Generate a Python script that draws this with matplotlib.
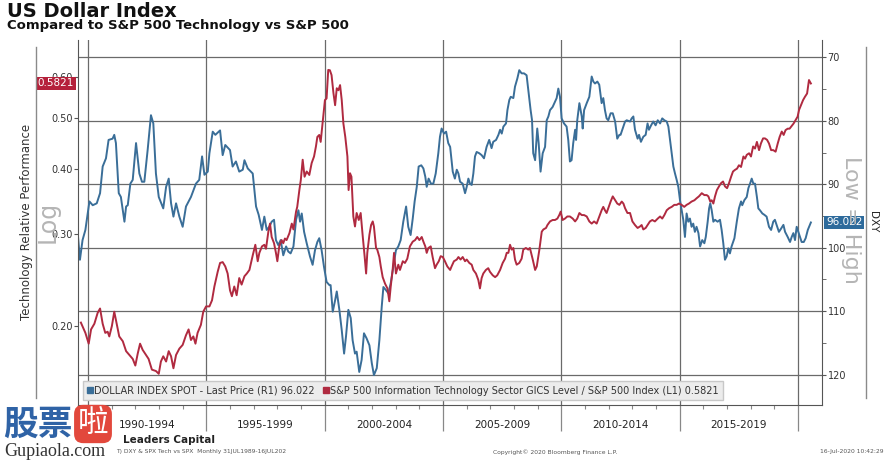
import matplotlib
matplotlib.use("Agg")
import matplotlib.pyplot as plt
from matplotlib.lines import Line2D
from matplotlib.ticker import NullLocator

plt.rcParams['font.family'] = ['DejaVu Sans', 'Noto Sans CJK SC']

# DXY monthly-ish (decimal year, index level) - right axis, inverted
dxy_t = [1989.58, 1989.66, 1989.77, 1989.89, 1990.06, 1990.20, 1990.37, 1990.51, 1990.62, 1990.76,
         1990.87, 1991.04, 1991.11, 1991.18, 1991.30, 1991.39, 1991.54, 1991.61, 1991.68, 1991.79,
         1991.89, 1992.03, 1992.17, 1992.28, 1992.38, 1992.52, 1992.66, 1992.76, 1992.87, 1992.99,
         1993.18, 1993.30, 1993.41, 1993.51, 1993.61, 1993.72, 1993.86, 1994.00, 1994.14, 1994.35,
         1994.56, 1994.70, 1994.82, 1994.92, 1995.06, 1995.13, 1995.27, 1995.38, 1995.58, 1995.69,
         1995.80, 1996.00, 1996.11, 1996.25, 1996.39, 1996.54, 1996.61, 1996.75, 1996.96, 1997.10,
         1997.21, 1997.35, 1997.45, 1997.55, 1997.66, 1997.76, 1997.86, 1997.94, 1998.04, 1998.14,
         1998.25, 1998.37, 1998.46, 1998.56, 1998.68, 1998.79, 1998.89, 1998.96, 1999.03, 1999.13,
         1999.24, 1999.38, 1999.49, 1999.59, 1999.69, 1999.77, 1999.87, 1999.97, 2000.08, 2000.20,
         2000.25, 2000.34, 2000.44, 2000.51, 2000.62, 2000.72, 2000.82, 2000.90, 2001.00, 2001.10,
         2001.18, 2001.28, 2001.35, 2001.46, 2001.56, 2001.66, 2001.77, 2001.89, 2001.99, 2002.08,
         2002.20, 2002.31, 2002.41, 2002.48, 2002.59, 2002.69, 2002.79, 2002.90, 2003.01, 2003.11,
         2003.21, 2003.32, 2003.44, 2003.53, 2003.63, 2003.72, 2003.80, 2003.89, 2003.97, 2004.08,
         2004.17, 2004.25, 2004.31, 2004.39, 2004.49, 2004.59, 2004.69, 2004.80, 2004.87, 2004.94,
         2005.04, 2005.13, 2005.22, 2005.30, 2005.41, 2005.50, 2005.58, 2005.65, 2005.72, 2005.83,
         2005.93, 2006.00, 2006.07, 2006.14, 2006.21, 2006.28, 2006.35, 2006.42, 2006.53, 2006.63,
         2006.73, 2006.84, 2006.95, 2007.05, 2007.12, 2007.24, 2007.34, 2007.41, 2007.48, 2007.55,
         2007.66, 2007.72, 2007.80, 2007.86, 2007.97, 2008.04, 2008.14, 2008.22, 2008.32, 2008.42,
         2008.53, 2008.60, 2008.70, 2008.76, 2008.81, 2008.89, 2008.98, 2009.04, 2009.12, 2009.21,
         2009.31, 2009.38, 2009.45, 2009.52, 2009.63, 2009.73, 2009.80, 2009.87, 2009.94, 2010.01,
         2010.11, 2010.22, 2010.29, 2010.36, 2010.43, 2010.50, 2010.58, 2010.62, 2010.67, 2010.76,
         2010.86, 2010.90, 2010.96, 2011.07, 2011.18, 2011.28, 2011.35, 2011.42, 2011.52, 2011.60,
         2011.70, 2011.77, 2011.84, 2011.91, 2011.98, 2012.08, 2012.17, 2012.27, 2012.36, 2012.45,
         2012.50, 2012.59, 2012.69, 2012.76, 2012.90, 2012.97, 2013.04, 2013.11, 2013.22, 2013.28,
         2013.36, 2013.46, 2013.56, 2013.64, 2013.70, 2013.79, 2013.88, 2013.98, 2014.07, 2014.17,
         2014.26, 2014.35, 2014.45, 2014.52, 2014.59, 2014.66, 2014.73, 2014.80, 2014.87, 2014.94,
         2015.01, 2015.08, 2015.15, 2015.22, 2015.29, 2015.36, 2015.43, 2015.50, 2015.57, 2015.64,
         2015.71, 2015.79, 2015.86, 2015.95, 2016.04, 2016.10, 2016.18, 2016.24, 2016.29, 2016.35,
         2016.42, 2016.49, 2016.60, 2016.70, 2016.77, 2016.84, 2016.91, 2016.98, 2017.05, 2017.12,
         2017.19, 2017.31, 2017.41, 2017.50, 2017.59, 2017.64, 2017.73, 2017.83, 2017.90, 2017.97,
         2018.04, 2018.11, 2018.18, 2018.26, 2018.32, 2018.39, 2018.49, 2018.57, 2018.67, 2018.77,
         2018.86, 2018.95, 2019.02, 2019.09, 2019.19, 2019.28, 2019.38, 2019.45, 2019.56, 2019.66,
         2019.73, 2019.80, 2019.87, 2019.94, 2020.01, 2020.08, 2020.15, 2020.24, 2020.32, 2020.41,
         2020.54]
dxy_v = [98.3, 101.9, 98.8, 97.2, 92.7, 93.3, 93.0, 91.4, 87.2, 85.9,
         83.0, 82.8, 82.2, 83.5, 91.4, 92.0, 95.9, 93.5, 93.3, 89.9,
         89.3, 83.5, 88.3, 89.6, 89.6, 84.6, 79.1, 80.4, 88.3, 92.0,
         93.8, 90.4, 89.1, 93.0, 95.1, 93.0, 95.1, 96.7, 93.5, 92.0,
         89.9, 89.3, 85.6, 88.5, 88.0, 85.1, 81.7, 82.2, 81.5, 85.4,
         83.8, 84.6, 87.2, 86.4, 88.0, 87.7, 86.2, 87.5, 88.3, 93.5,
         94.8, 97.2, 95.1, 97.2, 96.7, 95.9, 95.6, 98.8, 99.6, 98.8,
         101.2, 99.8, 100.6, 100.9, 99.8, 95.6, 94.1, 95.9, 94.6, 97.5,
         99.3, 101.4, 102.7, 100.4, 99.1, 98.5, 100.4, 103.0, 105.4, 105.9,
         105.9, 110.1, 108.3, 106.9, 109.8, 113.0, 116.7, 114.0, 109.8, 111.1,
         114.6, 116.7, 116.4, 119.6, 117.7, 113.5, 114.3, 115.4, 118.2, 120.1,
         119.0, 114.6, 109.3, 106.2, 106.7, 107.2, 105.6, 103.0, 100.4, 99.8,
         98.8, 95.9, 93.5, 96.7, 98.0, 95.4, 92.7, 90.4, 87.2, 87.0,
         87.5, 88.8, 90.4, 89.1, 89.9, 89.9, 88.3, 85.1, 82.5, 81.2,
         82.0, 81.7, 83.5, 84.1, 88.0, 89.1, 87.7, 88.3, 89.6, 89.9,
         91.4, 90.4, 89.1, 89.9, 90.1, 88.3, 85.6, 84.9, 85.1, 85.4,
         85.9, 84.1, 83.0, 84.3, 83.3, 83.0, 82.2, 81.4, 82.0, 80.9,
         80.4, 78.3, 76.7, 76.2, 76.4, 74.6, 73.3, 72.0, 72.5, 72.5,
         72.8, 75.1, 78.3, 79.9, 85.1, 86.2, 81.2, 83.5, 88.0, 85.1,
         84.1, 79.9, 79.3, 78.3, 77.8, 77.0, 76.4, 74.9, 76.2, 79.6,
         80.4, 80.9, 83.0, 86.4, 86.2, 83.5, 81.4, 83.0, 79.9, 77.2,
         79.3, 81.2, 78.3, 77.2, 76.2, 73.0, 73.8, 74.1, 73.8, 74.3,
         77.2, 76.4, 78.3, 79.6, 79.9, 78.8, 78.8, 80.1, 82.8, 82.2,
         82.2, 81.2, 80.1, 79.9, 80.1, 79.6, 79.3, 81.4, 82.8, 82.2,
         83.3, 82.5, 82.2, 80.4, 81.4, 80.7, 80.1, 80.7, 79.9, 80.4,
         79.6, 79.9, 80.1, 80.9, 83.0, 85.1, 87.2, 88.3, 89.3, 90.4,
         92.5, 94.1, 95.6, 98.3, 94.6, 95.9, 95.4, 96.7, 96.2, 97.5,
         96.7, 97.7, 99.8, 98.8, 99.3, 98.3, 95.9, 93.8, 93.0, 94.1,
         95.9, 95.6, 95.9, 95.6, 97.2, 99.3, 101.9, 101.4, 100.1, 100.9,
         99.8, 98.5, 95.9, 93.8, 92.7, 93.3, 92.5, 92.0, 90.6, 89.9,
         89.1, 89.9, 89.9, 92.0, 93.8, 94.1, 94.6, 94.8, 95.1, 96.7,
         97.2, 95.9, 95.6, 96.4, 97.5, 97.0, 96.4, 97.5, 98.3, 99.1,
         98.3, 97.7, 98.8, 96.7, 97.5, 98.3, 99.1, 99.1, 98.5, 97.2,
         96.02]

# S&P 500 IT sector / S&P 500 ratio - left axis, log
tech_t = [1989.70, 1989.89, 1990.03, 1990.13, 1990.27, 1990.41, 1990.51, 1990.62, 1990.73, 1990.83,
          1990.90, 1991.01, 1991.11, 1991.21, 1991.32, 1991.47, 1991.61, 1991.75, 1991.89, 1992.00,
          1992.10, 1992.20, 1992.31, 1992.45, 1992.56, 1992.70, 1992.87, 1992.99, 1993.08, 1993.18,
          1993.30, 1993.41, 1993.51, 1993.61, 1993.72, 1993.86, 1994.00, 1994.14, 1994.25, 1994.35,
          1994.45, 1994.54, 1994.63, 1994.77, 1994.87, 1994.99, 1995.13, 1995.24, 1995.34, 1995.48,
          1995.58, 1995.69, 1995.80, 1995.90, 1996.00, 1996.08, 1996.18, 1996.28, 1996.39, 1996.49,
          1996.61, 1996.71, 1996.82, 1996.96, 1997.07, 1997.17, 1997.24, 1997.35, 1997.45, 1997.52,
          1997.62, 1997.69, 1997.76, 1997.86, 1997.94, 1998.00, 1998.08, 1998.18, 1998.25, 1998.32,
          1998.39, 1998.51, 1998.61, 1998.68, 1998.79, 1998.84, 1998.93, 1998.99, 1999.07, 1999.15,
          1999.24, 1999.35, 1999.45, 1999.55, 1999.63, 1999.69, 1999.77, 1999.83, 1999.91, 2000.01,
          2000.08, 2000.15, 2000.22, 2000.29, 2000.37, 2000.44, 2000.51, 2000.58, 2000.65, 2000.72,
          2000.79, 2000.87, 2000.96, 2001.01, 2001.07, 2001.13, 2001.21, 2001.28, 2001.35, 2001.44,
          2001.52, 2001.61, 2001.69, 2001.75, 2001.80, 2001.89, 2001.96, 2002.03, 2002.08, 2002.17,
          2002.22, 2002.31, 2002.37, 2002.45, 2002.55, 2002.65, 2002.73, 2002.79, 2002.87, 2002.93,
          2003.01, 2003.11, 2003.18, 2003.30, 2003.39, 2003.49, 2003.60, 2003.72, 2003.82, 2003.91,
          2004.00, 2004.10, 2004.17, 2004.25, 2004.31, 2004.38, 2004.48, 2004.56, 2004.66, 2004.73,
          2004.82, 2004.90, 2004.99, 2005.08, 2005.18, 2005.30, 2005.36, 2005.46, 2005.58, 2005.65,
          2005.74, 2005.83, 2005.93, 2006.00, 2006.11, 2006.21, 2006.28, 2006.39, 2006.49, 2006.56,
          2006.63, 2006.70, 2006.81, 2006.91, 2006.98, 2007.10, 2007.20, 2007.29, 2007.41, 2007.52,
          2007.62, 2007.69, 2007.76, 2007.83, 2007.90, 2007.97, 2008.04, 2008.11, 2008.22, 2008.32,
          2008.39, 2008.50, 2008.60, 2008.67, 2008.79, 2008.89, 2008.96, 2009.07, 2009.17, 2009.24,
          2009.35, 2009.41, 2009.52, 2009.63, 2009.73, 2009.83, 2009.91, 2009.97, 2010.05, 2010.15,
          2010.25, 2010.36, 2010.48, 2010.58, 2010.67, 2010.76, 2010.86, 2010.96, 2011.07, 2011.18,
          2011.28, 2011.38, 2011.49, 2011.60, 2011.70, 2011.77, 2011.84, 2011.91, 2011.98, 2012.08,
          2012.17, 2012.27, 2012.36, 2012.45, 2012.55, 2012.62, 2012.69, 2012.79, 2012.90, 2013.00,
          2013.11, 2013.22, 2013.32, 2013.39, 2013.46, 2013.56, 2013.64, 2013.74, 2013.84, 2013.95,
          2014.07, 2014.17, 2014.26, 2014.35, 2014.45, 2014.55, 2014.66, 2014.77, 2014.87, 2014.97,
          2015.08, 2015.19, 2015.29, 2015.39, 2015.50, 2015.62, 2015.71, 2015.81, 2015.93, 2016.04,
          2016.14, 2016.21, 2016.29, 2016.35, 2016.42, 2016.49, 2016.57, 2016.66, 2016.74, 2016.83,
          2016.91, 2017.00, 2017.08, 2017.17, 2017.25, 2017.34, 2017.42, 2017.50, 2017.59, 2017.69,
          2017.76, 2017.83, 2017.93, 2018.01, 2018.10, 2018.18, 2018.26, 2018.35, 2018.43, 2018.52,
          2018.60, 2018.69, 2018.77, 2018.86, 2018.95, 2019.05, 2019.14, 2019.22, 2019.31, 2019.39,
          2019.47, 2019.56, 2019.64, 2019.73, 2019.81, 2019.90, 2019.98, 2020.04, 2020.12, 2020.21,
          2020.29, 2020.38, 2020.46, 2020.54]
tech_v = [0.203, 0.194, 0.185, 0.197, 0.202, 0.212, 0.216, 0.202, 0.194, 0.195,
          0.191, 0.200, 0.213, 0.202, 0.191, 0.187, 0.179, 0.176, 0.173, 0.168,
          0.177, 0.185, 0.180, 0.176, 0.173, 0.165, 0.164, 0.162, 0.171, 0.175,
          0.171, 0.179, 0.175, 0.166, 0.176, 0.181, 0.184, 0.192, 0.197, 0.188,
          0.191, 0.185, 0.194, 0.201, 0.213, 0.218, 0.218, 0.224, 0.238, 0.254,
          0.264, 0.265, 0.260, 0.252, 0.234, 0.228, 0.238, 0.229, 0.247, 0.240,
          0.249, 0.252, 0.256, 0.273, 0.286, 0.266, 0.276, 0.284, 0.286, 0.281,
          0.303, 0.314, 0.296, 0.288, 0.276, 0.266, 0.284, 0.292, 0.288, 0.294,
          0.292, 0.301, 0.314, 0.306, 0.331, 0.338, 0.364, 0.380, 0.416, 0.386,
          0.395, 0.389, 0.410, 0.422, 0.441, 0.460, 0.464, 0.450, 0.488, 0.541,
          0.545, 0.618, 0.617, 0.604, 0.558, 0.529, 0.570, 0.565, 0.578, 0.541,
          0.488, 0.460, 0.422, 0.364, 0.392, 0.386, 0.324, 0.310, 0.329, 0.319,
          0.329, 0.296, 0.271, 0.252, 0.276, 0.299, 0.312, 0.317, 0.310, 0.282,
          0.280, 0.271, 0.260, 0.248, 0.241, 0.236, 0.223, 0.238, 0.256, 0.276,
          0.252, 0.262, 0.256, 0.266, 0.264, 0.269, 0.284, 0.290, 0.292, 0.296,
          0.292, 0.296, 0.290, 0.284, 0.276, 0.282, 0.284, 0.271, 0.258, 0.262,
          0.266, 0.272, 0.271, 0.266, 0.260, 0.256, 0.260, 0.266, 0.268, 0.271,
          0.268, 0.271, 0.266, 0.268, 0.264, 0.262, 0.256, 0.252, 0.245, 0.236,
          0.247, 0.252, 0.256, 0.258, 0.254, 0.250, 0.248, 0.250, 0.256, 0.264,
          0.269, 0.276, 0.276, 0.286, 0.280, 0.282, 0.268, 0.262, 0.264, 0.269,
          0.280, 0.282, 0.280, 0.282, 0.268, 0.256, 0.260, 0.280, 0.303, 0.306,
          0.308, 0.312, 0.317, 0.319, 0.319, 0.321, 0.326, 0.331, 0.319, 0.321,
          0.324, 0.324, 0.321, 0.317, 0.321, 0.329, 0.326, 0.326, 0.324, 0.317,
          0.314, 0.317, 0.314, 0.324, 0.333, 0.338, 0.333, 0.329, 0.336, 0.346,
          0.354, 0.348, 0.343, 0.341, 0.346, 0.343, 0.336, 0.329, 0.329, 0.317,
          0.312, 0.308, 0.310, 0.312, 0.306, 0.308, 0.312, 0.317, 0.319, 0.317,
          0.321, 0.324, 0.321, 0.326, 0.333, 0.336, 0.338, 0.341, 0.341, 0.343,
          0.341, 0.338, 0.341, 0.343, 0.346, 0.348, 0.351, 0.354, 0.359, 0.356,
          0.356, 0.354, 0.346, 0.348, 0.343, 0.354, 0.364, 0.370, 0.375, 0.378,
          0.370, 0.367, 0.375, 0.386, 0.395, 0.398, 0.400, 0.406, 0.403, 0.422,
          0.418, 0.425, 0.428, 0.422, 0.441, 0.437, 0.450, 0.434, 0.447, 0.457,
          0.457, 0.454, 0.447, 0.434, 0.434, 0.431, 0.447, 0.460, 0.471, 0.464,
          0.474, 0.477, 0.477, 0.483, 0.488, 0.496, 0.503, 0.518, 0.529, 0.541,
          0.549, 0.557, 0.591, 0.5821]

periods = ['1990-1994', '1995-1999', '2000-2004', '2005-2009', '2010-2014', '2015-2019']
period_starts = [1990, 1995, 2000, 2005, 2010, 2015]
left_ticks = [0.20, 0.30, 0.40, 0.50, 0.60]
right_ticks = [70, 80, 90, 100, 110, 120]

blue = '#3a6e98'
red = '#b02a40'
W, H = 887, 466

fig = plt.figure(figsize=(W / 100, H / 100), dpi=100)
ax = fig.add_axes([78 / W, 1 - 405 / H, 744 / W, 365 / H])
axl = ax.twinx()  # made first: twinx moves the host's ticks to the left

# dollar index on the right, inverted (Low = High)
ax.plot(dxy_t, dxy_v, color=blue, lw=1.4)
ax.set_ylim(124.81, 67.24)
ax.set_xlim(1989.578, 2021.01)
ax.yaxis.tick_right()
ax.yaxis.set_label_position('right')
ax.set_yticks(right_ticks)
ax.set_yticks([75, 85, 95, 105, 115], minor=True)
ax.set_yticklabels([str(v) for v in right_ticks])
ax.tick_params(axis='y', which='both', direction='out', length=3, color='#555',
               labelsize=7, labelcolor='#333', pad=1)
ax.set_xticks(range(1990, 2021, 5))
ax.set_xticklabels([])
ax.set_xticks(range(1990, 2021), minor=True)
ax.tick_params(axis='x', which='major', length=19, color='#888', width=0.9)
ax.tick_params(axis='x', which='minor', length=3, color='#888', width=0.8)
ax.grid(True, which='major', color='#6a6a6a', lw=0.9)
ax.set_axisbelow(True)
ax.spines['top'].set_visible(False)
for s in ['left', 'right', 'bottom']:
    ax.spines[s].set_color('#555')

for lab, st in zip(periods, period_starts):
    ax.text(st + 2.5, -0.055, lab, transform=ax.get_xaxis_transform(), ha='center',
            va='center', fontsize=7.5, color='#222')

# tech relative performance on the left, log scale
axl.plot(tech_t, tech_v, color=red, lw=1.4)
axl.set_yscale('log')
axl.set_ylim(0.1412, 0.705)
axl.yaxis.tick_left()
axl.set_yticks(left_ticks)
axl.set_yticklabels(['%.2f' % v for v in left_ticks])
axl.yaxis.set_minor_locator(NullLocator())
axl.tick_params(axis='y', direction='out', length=3, color='#555', labelsize=7,
                labelcolor='#333', pad=1)
for s in axl.spines.values():
    s.set_visible(False)

axl.annotate('0.5821', xy=(0, 0.5821), xycoords=('axes fraction', 'data'),
             xytext=(-3, 0), textcoords='offset points', ha='right', va='center',
             fontsize=7.5, color='white', annotation_clip=False,
             bbox=dict(boxstyle='square,pad=0.18', fc='#b5213b', ec='none'))
ax.annotate('96.022', xy=(1, 96.022), xycoords=('axes fraction', 'data'),
            xytext=(3, 0), textcoords='offset points', ha='left', va='center',
            fontsize=7.5, color='white', annotation_clip=False,
            bbox=dict(boxstyle='square,pad=0.18', fc='#2e6b9c', ec='none'))

handles = [Line2D([], [], ls='none', marker='s', ms=4, color=blue),
           Line2D([], [], ls='none', marker='s', ms=4, color=red)]
leg = axl.legend(handles, ['DOLLAR INDEX SPOT - Last Price (R1) 96.022',
                           'S&P 500 Information Technology Sector GICS Level / S&P 500 Index (L1) 0.5821'],
                 ncol=2, loc='lower left', bbox_to_anchor=(0.0, 0.0), fontsize=7.0,
                 frameon=True, fancybox=False, facecolor='#ececec', edgecolor='#c8c8c8',
                 handlelength=0.5, handletextpad=0.2, columnspacing=0.9, borderpad=0.45,
                 labelcolor='#333')
leg.get_frame().set_alpha(1)

# titles and side labels
fig.text(7 / W, 1 - 2 / H, 'US Dollar Index', fontsize=14, fontweight='bold', va='top', color='#111')
fig.text(7 / W, 1 - 19 / H, 'Compared to S&P 500 Technology vs S&P 500', fontsize=9.5,
         fontweight='bold', va='top', color='#111')
fig.text(27 / W, 1 - 222 / H, 'Technology Relative Performance', rotation=90, fontsize=8.5,
         ha='center', va='center', color='#333')
fig.text(48 / W, 1 - 222 / H, 'Log', rotation=90, fontsize=17, ha='center', va='center', color='#b5b5b5')
fig.text(851 / W, 1 - 220 / H, 'Low = High', rotation=270, fontsize=16, ha='center', va='center',
         color='#b5b5b5')
fig.text(873 / W, 1 - 222 / H, 'DXY', rotation=270, fontsize=7.5, ha='center', va='center', color='#222')
fig.add_artist(Line2D([36 / W, 36 / W], [1 - 47 / H, 1 - 398 / H], color='#8a8a8a', lw=1))
fig.add_artist(Line2D([866 / W, 866 / W], [1 - 47 / H, 1 - 398 / H], color='#8a8a8a', lw=1))

# footer
fig.text(123 / W, 1 - 440 / H, 'Leaders Capital', fontsize=7.5, fontweight='bold', va='center', color='#222')
fig.text(116 / W, 1 - 452 / H, 'T) DXY & SPX Tech vs SPX  Monthly 31JUL1989-16JUL202', fontsize=4.3,
         va='center', color='#555')
fig.text(555 / W, 1 - 452 / H, 'Copyright\u00a9 2020 Bloomberg Finance L.P.', fontsize=4.3, ha='center',
         va='center', color='#555')
fig.text(884 / W, 1 - 452 / H, '16-Jul-2020 10:42:29', fontsize=4.3, ha='right', va='center', color='#555')

# watermark
fig.text(3 / W, 1 - 424 / H, '股票', fontsize=25, fontweight='bold', color='#2f63a6',
         family=['Noto Sans CJK SC', 'DejaVu Sans'], va='center')
fig.text(93 / W, 1 - 424 / H, '啦', fontsize=22, color='white', ha='center', va='center',
         family=['Noto Sans CJK SC', 'DejaVu Sans'],
         bbox=dict(boxstyle='round,pad=0.12,rounding_size=0.3', fc='#e2483c', ec='none'))
fig.text(4 / W, 1 - 452 / H, 'Gupiaola.com', fontsize=13, color='#333',
         family=['Liberation Serif', 'DejaVu Serif'], va='center')

fig.savefig('out.png', dpi=100)
